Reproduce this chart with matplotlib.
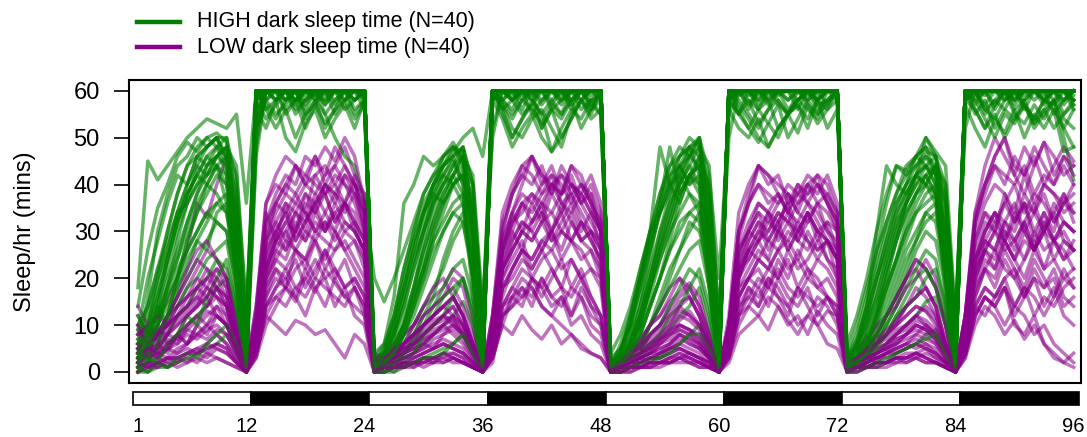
import numpy as np
import matplotlib
matplotlib.use('Agg')
import matplotlib.pyplot as plt
from matplotlib.lines import Line2D
from matplotlib.patches import Rectangle

plt.rcParams['font.family'] = ['Liberation Sans', 'DejaVu Sans']

# sleep per hour (mins), 96 hourly values per fly, typed in blocks of 12 h
high_dark = [
    "18 45 41 44 47 50 52 54 53 52 55 36  60 58 55 57 60 54 58 55 50 46 44 36  20 15 20 26 32 38 42 44 47 50 52 46  60 60 58 55 57 60 56 54 58 60 57 55  4 8 14 22 30 38 44 48 46 50 42 20  55 60 58 56 60 57 55 58 60 56 58 60  6 12 20 30 38 44 43 46 50 47 44 12  58 60 56 54 58 60 57 52 55 58 50 41",
    "10 14 22 30 38 44 48 50 51 49 30 4  60 60 60 58 60 59 60 60 58 60 60 60  2 3 8 14 22 30 38 44 48 47 32 6  58 60 60 60 59 60 60 58 60 60 59 60  1 3 7 12 20 28 36 42 48 50 30 5  60 60 59 60 60 60 58 60 60 59 60 60  2 4 10 16 24 32 38 42 46 44 28 3  60 59 60 60 60 58 60 60 59 60 60 57",
    "14 26 35 40 46 49 47 50 48 46 38 8  56 60 58 60 57 60 59 58 60 58 60 59  3 6 16 36 40 46 44 46 49 45 36 10  60 58 56 60 58 55 58 60 57 60 58 59  0 2 6 14 24 36 48 38 42 44 34 8  58 60 60 57 59 60 56 58 60 60 57 60  4 10 18 26 36 44 42 46 48 42 30 6  60 58 60 57 60 56 58 60 58 57 60 58",
    "5 8 12 18 24 30 36 40 44 42 26 2  52 60 60 60 58 60 60 60 60 60 58 60  0 1 4 8 14 20 28 34 40 43 30 3  60 60 60 59 60 60 60 60 60 58 60 60  0 1 3 8 14 20 28 36 42 44 28 2  60 60 60 60 60 59 60 60 60 60 60 59  1 2 5 10 16 22 28 34 38 40 24 1  60 60 59 60 60 60 60 60 58 60 60 60",
    "2 4 8 12 16 20 24 28 32 30 18 1  48 60 60 58 60 60 59 60 60 60 60 58  0 2 3 6 10 14 18 22 28 32 20 2  60 60 58 60 60 60 60 57 60 60 60 60  1 2 4 6 10 16 22 26 30 34 24 2  60 59 60 60 60 60 60 60 58 60 60 60  0 1 3 6 10 14 20 26 30 28 18 1  60 60 60 60 59 60 60 60 60 60 58 60",
    "8 10 16 24 32 38 42 46 48 50 40 10  60 57 54 58 60 55 57 53 56 58 54 57  2 4 6 10 18 26 34 40 44 48 40 8  60 57 52 50 54 56 52 48 55 58 54 56  2 3 5 10 18 26 34 42 46 48 38 6  60 56 52 49 53 50 55 57 54 58 52 56  3 6 10 16 24 30 36 40 44 46 36 8  60 56 52 55 50 54 57 53 56 52 55 58",
    "1 2 3 5 8 10 12 14 18 20 12 0  46 60 60 60 60 60 60 60 60 60 60 60  0 0 1 2 4 6 8 10 12 15 10 0  60 60 60 60 60 60 60 60 60 60 60 60  0 1 2 3 5 7 9 12 14 18 10 0  60 60 60 60 60 60 60 60 60 60 60 60  0 1 2 4 6 8 10 12 15 16 10 0  60 60 60 60 60 60 60 60 60 60 60 60",
    "6 12 20 26 34 36 40 44 46 48 34 5  58 60 60 56 58 60 60 57 60 60 58 60  1 3 10 18 28 34 38 42 45 40 28 4  60 58 60 60 55 58 60 60 56 60 60 58  1 6 12 20 30 34 38 44 40 42 30 4  60 58 55 52 56 60 58 60 57 55 60 58  2 5 12 20 26 32 36 40 42 38 26 3  60 60 56 58 60 57 60 58 60 55 58 60",
    "12 8 14 10 18 22 28 26 34 36 22 3  54 60 60 60 58 60 60 60 60 60 60 60  0 2 5 4 8 12 16 24 30 34 24 2  60 60 59 60 60 58 60 60 60 60 60 60  0 3 6 5 10 14 20 26 32 30 22 2  60 60 60 58 60 60 60 60 59 60 60 60  1 3 8 6 12 16 22 28 34 36 22 2  60 60 60 60 60 60 59 60 60 60 60 58",
    "4 16 30 38 44 46 50 48 50 46 30 2  60 60 60 60 60 60 60 60 60 60 60 60  1 4 12 22 30 36 40 46 48 44 26 1  60 60 60 60 60 60 60 60 60 60 60 60  2 4 10 20 28 36 42 46 48 46 28 2  60 60 60 60 60 60 60 60 60 60 60 60  3 8 16 26 32 38 42 44 46 42 26 2  60 60 60 60 60 60 60 60 60 60 60 59",
    "0 2 6 12 20 28 34 38 42 40 26 6  56 52 58 50 47 53 56 50 54 57 52 58  0 1 3 8 14 22 30 36 40 42 30 4  58 54 48 52 55 50 47 52 56 54 58 55  0 1 4 10 18 26 32 38 42 40 26 3  56 52 50 54 48 52 55 51 57 53 56 58  0 2 5 10 18 24 30 36 40 38 24 2  57 52 48 54 51 56 50 55 52 56 47 48",
    "0 0 1 1 2 3 4 5 6 8 4 0  58 60 60 60 60 60 60 60 60 60 60 60  0 0 0 1 2 3 4 5 6 8 5 0  60 60 60 60 60 60 60 60 60 60 60 60  0 0 1 2 2 3 5 6 8 10 6 0  60 60 60 60 60 60 60 60 60 60 60 60  0 0 1 1 2 4 5 6 8 9 5 0  60 60 60 60 60 60 60 60 60 60 60 60",
    "3 6 12 20 26 32 38 42 46 48 44 12  60 60 58 60 60 57 60 60 60 58 60 60  1 2 6 12 18 26 32 38 42 46 42 14  50 60 58 60 60 60 57 60 60 58 60 60  2 3 6 12 20 28 34 40 44 48 44 10  58 60 60 60 57 60 60 60 58 60 60 60  1 3 8 14 20 28 34 38 40 44 40 10  60 60 57 60 60 60 58 60 60 60 57 60",
    "1 4 10 18 28 36 44 48 50 44 18 0  60 60 60 60 60 60 60 60 60 60 60 60  0 1 4 10 18 28 36 42 46 40 16 0  60 60 60 60 60 60 60 60 60 60 60 60  0 1 4 12 20 30 38 44 48 42 18 0  60 60 60 60 60 60 60 60 60 60 60 60  0 2 6 12 22 30 36 42 44 40 16 0  60 60 60 60 60 60 60 60 60 60 60 60",
    "4 6 8 12 14 18 20 24 26 28 16 2  60 60 60 60 58 60 60 60 60 60 60 60  0 1 2 4 7 10 14 18 22 24 16 1  60 60 60 60 60 60 60 59 60 60 60 60  1 2 3 6 10 14 18 22 26 28 18 1  60 60 60 59 60 60 60 60 60 60 60 60  1 2 4 6 10 14 18 22 26 24 14 1  60 60 60 60 60 59 60 60 60 60 60 60",
    "8 14 22 28 34 40 44 42 46 44 32 6  60 58 60 60 60 58 60 59 60 60 60 60  2 4 8 16 24 32 38 36 40 42 30 5  60 60 58 60 60 60 60 58 60 60 60 60  1 4 12 22 30 48 40 36 42 38 26 4  60 60 60 58 60 60 60 60 60 58 60 60  2 6 14 30 44 40 38 42 44 40 30 4  60 60 60 60 58 60 60 60 60 60 58 60",
    "2 5 10 16 22 26 30 34 36 38 24 4  52 58 60 55 58 52 57 60 55 58 60 56  1 2 5 10 16 22 28 32 36 38 26 3  60 57 54 58 56 53 57 55 58 52 56 58  0 2 6 12 18 24 30 34 38 36 24 3  58 55 58 53 56 58 55 57 52 58 56 60  1 3 6 12 18 24 30 34 36 38 24 3  58 56 52 57 60 55 53 57 54 58 52 56",
    "6 10 18 26 34 40 46 48 50 50 36 8  60 60 60 60 60 60 60 60 60 60 60 60  2 5 10 18 26 34 40 44 46 48 34 6  60 60 60 60 60 60 60 60 60 60 60 60  2 5 10 18 26 34 40 46 48 49 36 6  60 60 60 60 60 60 60 60 60 60 60 60  2 6 12 20 28 34 40 44 47 46 34 6  60 60 60 60 60 60 60 60 60 60 60 60",
    "3 3 5 8 12 14 18 20 24 22 14 2  60 56 58 60 55 58 60 57 60 56 58 60  0 1 2 4 6 10 12 16 18 20 12 1  60 56 50 54 58 55 47 50 54 58 56 60  0 1 2 4 8 10 14 18 22 20 12 1  60 57 54 50 48 52 55 58 56 54 58 60  0 1 3 5 8 12 16 20 22 18 12 1  60 58 54 50 55 53 57 54 58 56 52 48",
    "1 2 6 12 20 28 34 40 44 46 34 5  60 60 60 60 60 60 58 60 60 60 60 60  1 2 5 10 16 24 32 38 42 46 34 4  60 60 60 60 58 60 60 60 60 60 60 60  1 3 6 10 18 26 32 40 46 50 38 4  60 60 60 60 60 60 60 58 60 60 60 60  1 3 6 12 20 28 36 42 50 46 40 8  60 60 60 60 60 60 60 60 58 60 60 60",
    "2 6 14 24 32 38 42 46 44 40 24 3  55 60 60 58 60 56 60 60 57 60 60 58  1 3 8 16 24 30 36 40 44 46 32 5  60 58 60 56 60 60 58 55 60 60 57 60  1 2 8 16 26 34 40 44 46 44 30 4  60 60 57 60 58 60 60 56 60 58 60 60  2 4 10 18 26 34 38 42 40 44 28 3  60 57 60 60 58 60 56 60 60 58 60 56",
    "6 4 10 16 20 26 30 34 32 30 20 2  60 60 60 60 60 60 60 60 60 60 60 60  1 2 4 8 12 18 24 30 34 36 22 2  60 60 60 60 60 60 60 60 60 60 60 60  1 2 4 8 14 20 26 30 34 36 24 2  60 60 60 60 60 60 60 60 60 60 60 60  1 2 4 8 12 18 24 28 32 34 22 2  60 60 60 60 60 60 60 60 60 60 60 60",
    "9 20 28 36 42 40 46 44 48 42 26 10  58 60 60 60 58 60 60 58 60 60 60 60  4 6 12 20 28 34 40 44 46 48 40 12  60 56 58 60 60 57 60 60 58 60 56 60  3 5 10 18 28 36 42 44 40 46 36 10  58 60 56 60 60 58 55 60 60 58 60 60  3 7 14 22 30 36 40 46 44 42 36 10  58 60 60 56 60 58 60 60 57 60 60 58",
    "0 3 2 6 8 12 10 16 20 24 14 1  50 60 60 60 60 60 60 60 60 60 60 60  0 1 2 3 4 8 10 12 16 20 14 1  58 60 60 60 60 60 60 60 60 60 60 60  0 1 3 4 6 8 12 14 18 22 14 1  60 60 60 60 60 60 60 60 60 60 60 60  0 2 4 6 8 12 14 16 20 22 14 1  60 60 60 60 60 60 60 60 60 60 60 60",
    "4 10 20 30 38 44 46 48 50 46 32 4  60 56 52 56 50 55 58 52 56 60 55 58  2 5 12 22 30 38 42 46 48 46 30 4  60 55 50 54 57 52 56 50 54 58 55 60  1 4 10 20 30 38 44 46 50 48 30 3  60 55 52 56 53 57 50 54 58 55 57 60  2 6 14 24 32 38 44 46 48 46 30 3  60 55 58 52 56 54 58 53 56 58 54 52",
    "3 8 14 22 30 36 40 42 44 36 20 2  60 60 60 60 60 60 60 60 60 60 60 60  1 3 8 14 22 30 36 40 42 38 20 2  60 60 60 60 60 60 60 60 60 60 60 60  1 3 8 14 22 30 36 40 44 40 22 2  60 60 60 60 60 60 60 60 60 60 60 60  1 3 8 14 22 28 34 38 42 38 20 2  60 60 60 60 60 60 60 60 60 60 60 60",
    "1 0 2 1 3 4 3 6 8 10 6 0  60 60 60 60 60 60 60 60 60 60 60 60  0 0 1 1 2 3 3 4 6 8 4 0  60 60 60 60 60 60 60 60 60 60 60 60  0 0 1 2 3 3 4 6 8 8 5 0  60 60 60 60 60 60 60 60 60 60 60 60  0 1 1 2 3 4 5 6 7 8 4 0  60 60 60 60 60 60 60 60 60 60 60 60",
    "5 8 12 18 24 32 38 44 46 48 42 14  52 60 58 60 60 60 58 60 60 60 58 60  2 3 6 10 16 22 30 36 42 44 40 10  52 60 60 58 60 60 60 60 58 60 60 60  2 3 6 10 16 24 30 38 42 46 40 12  50 60 60 60 58 60 60 60 60 58 60 60  2 3 6 12 18 24 32 38 42 44 38 10  52 60 60 60 60 58 60 60 60 60 60 58",
    "7 6 10 14 18 24 28 32 36 34 22 3  58 54 57 60 56 58 60 55 58 60 56 58  1 2 4 8 14 20 26 30 34 32 22 2  60 58 55 58 60 52 56 58 60 56 58 60  1 2 4 8 14 20 26 32 34 32 20 2  58 55 60 56 58 52 55 58 60 57 58 60  1 2 4 8 14 20 26 30 34 32 20 2  58 60 55 58 56 60 57 54 58 60 55 57",
    "2 8 16 24 32 38 42 40 38 34 20 1  60 60 60 60 60 60 60 60 60 60 60 60  1 4 10 18 26 34 40 42 40 36 20 1  60 60 60 60 60 60 60 60 60 60 60 60  1 4 12 20 28 34 40 42 38 34 18 1  60 60 60 60 60 60 60 60 60 60 60 60  1 5 12 20 28 36 40 42 40 36 20 1  60 60 60 60 60 60 60 60 60 60 60 60",
]

low_dark = [
    "10 8 12 15 20 26 36 33 40 46 30 2  8 28 36 40 44 42 46 40 44 48 42 30  2 3 5 8 10 14 16 18 22 20 12 1  6 26 34 40 46 42 38 44 40 36 38 30  1 2 4 6 10 12 16 20 18 14 8 0  10 30 38 44 40 42 36 40 38 42 40 34  2 3 6 8 12 16 20 24 22 18 10 1  12 34 44 50 46 42 48 44 49 46 42 44",
    "4 6 5 8 7 10 12 10 14 12 6 0  6 20 26 24 30 28 32 30 34 36 32 24  1 2 1 3 4 6 5 8 10 8 4 0  4 18 22 26 24 28 30 26 32 28 30 22  0 1 2 3 2 4 6 8 6 5 3 0  5 16 20 24 22 26 28 24 30 26 28 20  1 2 3 2 4 5 6 8 10 8 4 0  6 20 26 22 28 24 30 26 32 28 26 22",
    "2 1 3 2 4 5 4 6 8 6 3 0  4 12 10 8 11 10 8 9 6 3 8 6  0 1 0 2 1 3 2 4 3 2 1 0  3 10 8 12 9 7 10 6 8 5 4 3  0 0 1 1 2 2 3 4 3 2 1 0  2 8 10 12 9 14 11 8 12 10 6 5  0 1 1 2 2 3 3 4 5 3 2 0  3 10 14 12 8 11 7 10 6 4 2 1",
    "6 4 8 10 12 16 18 22 20 18 10 1  12 32 38 42 40 46 44 48 45 50 46 36  3 2 4 6 8 10 12 14 16 12 6 0  10 30 38 44 46 42 40 38 44 42 36 32  1 2 3 4 6 8 10 14 12 10 5 0  8 28 36 44 42 40 38 36 40 38 42 36  2 3 4 6 8 10 14 18 16 12 6 0  10 32 40 46 50 44 42 46 40 44 48 45",
    "3 2 4 3 5 6 8 10 8 6 3 0  5 18 22 20 24 18 22 26 20 24 18 14  0 1 2 1 3 4 5 6 5 4 2 0  4 14 18 22 20 16 20 24 18 22 16 12  0 1 1 2 3 3 4 5 4 3 2 0  4 16 20 18 22 20 24 18 22 20 16 14  1 1 2 3 4 5 6 5 6 4 2 0  5 16 22 18 24 20 16 22 18 20 14 16",
    "8 10 6 12 14 18 22 26 24 20 12 1  10 26 32 28 34 30 36 38 32 36 34 28  2 4 3 6 8 12 14 16 20 18 10 0  8 24 30 36 32 34 28 32 36 30 34 26  1 2 3 5 8 10 14 16 18 14 8 0  8 22 28 32 30 34 32 28 34 30 32 26  2 3 5 8 12 16 20 24 22 18 10 0  10 26 32 30 36 32 38 34 30 36 32 30",
    "1 0 2 1 3 2 4 3 5 4 2 0  3 14 16 18 15 20 17 22 19 16 18 12  0 0 1 1 2 2 3 2 3 2 1 0  2 12 14 16 18 14 12 16 10 12 8 6  0 0 0 1 1 2 2 3 2 2 1 0  3 10 14 12 16 14 10 12 8 13 10 8  0 0 1 1 2 2 3 3 4 3 1 0  4 12 16 14 10 14 12 8 10 6 4 2",
    "12 8 10 6 8 12 14 18 16 14 8 1  14 34 28 36 30 38 34 40 36 42 38 32  4 3 2 4 6 8 10 12 14 10 6 0  12 28 34 30 36 32 38 34 40 36 32 28  2 2 3 4 5 7 9 11 13 10 6 0  10 26 30 34 28 32 36 30 34 28 32 30  3 2 4 5 6 8 10 12 14 12 6 0  12 28 34 30 38 32 36 28 34 30 38 34",
    "5 3 6 4 8 6 10 8 12 10 5 0  8 22 28 32 30 36 34 38 32 36 30 26  1 2 3 4 5 6 8 10 12 8 4 0  10 30 38 42 46 40 42 36 38 32 28 24  0 1 2 3 4 5 6 8 7 5 3 0  12 34 40 44 42 38 34 40 36 32 28 26  1 2 3 4 5 7 8 10 9 7 4 0  10 24 30 34 28 32 36 30 34 28 32 30",
    "3 5 8 12 16 20 24 22 18 14 6 0  6 20 24 28 26 30 28 32 30 26 28 22  1 2 4 6 10 14 18 20 16 12 6 0  5 18 22 26 24 28 26 30 28 24 26 20  1 2 4 7 10 14 18 20 16 12 6 0  6 20 26 24 28 26 30 28 26 30 24 22  1 3 5 8 12 16 20 22 18 14 6 0  6 22 26 30 28 24 28 26 30 24 28 26",
    "4 6 3 5 8 6 10 12 14 10 6 0  10 28 34 38 36 40 38 42 44 40 38 34  2 1 3 4 5 6 8 9 10 8 4 0  8 26 32 36 34 38 40 42 38 40 36 30  1 1 2 3 4 5 6 8 7 6 3 0  8 24 30 34 32 36 38 34 40 42 36 30  1 2 3 4 5 7 8 10 9 7 4 0  12 34 40 46 50 42 38 44 49 42 46 44",
    "0 1 2 1 2 3 2 4 3 2 1 0  4 14 18 20 16 22 18 20 14 18 12 10  0 0 1 1 2 1 2 3 2 2 1 0  3 12 16 18 14 20 16 18 12 16 10 8  0 0 1 1 1 2 2 3 2 1 1 0  3 12 18 14 20 16 12 18 14 10 13 12  0 1 1 2 2 3 2 3 2 2 1 0  4 14 18 16 20 14 18 12 16 14 18 20",
    "7 9 8 10 12 14 16 14 18 16 8 1  10 30 36 34 38 42 40 38 42 40 36 30  2 3 4 5 6 8 10 12 10 8 4 0  8 26 32 36 38 34 40 38 44 40 36 30  1 2 3 4 5 6 8 10 9 7 4 0  8 24 30 28 34 32 36 38 42 40 36 32  1 2 3 5 6 8 10 12 10 8 4 0  8 24 30 34 32 36 30 34 38 32 36 38",
    "1 2 2 3 3 4 5 6 5 4 2 0  4 16 20 18 22 24 20 26 22 18 20 16  0 1 1 2 2 3 3 4 4 3 1 0  4 14 16 20 18 14 12 10 8 6 4 3  0 0 1 1 2 2 3 3 4 3 1 0  4 14 18 16 20 18 14 10 12 16 14 10  0 1 1 2 2 3 3 4 3 2 1 0  4 12 16 14 18 10 8 12 6 3 2 4",
    "5 3 5 7 6 9 11 13 12 10 5 0  7 24 30 26 32 28 34 30 36 32 30 26  2 1 2 3 4 5 7 8 9 7 3 0  7 22 28 32 30 26 30 34 28 32 28 24  1 1 2 3 4 4 5 7 6 5 3 0  6 20 26 30 28 32 26 30 28 24 28 24  1 2 3 3 4 6 7 8 7 6 3 0  8 22 28 26 32 28 24 30 26 28 24 28",
    "14 10 8 12 16 22 26 28 24 20 10 1  9 22 28 32 36 34 30 34 38 36 32 28  3 4 6 8 10 12 14 16 18 14 8 0  8 20 26 30 28 32 34 30 28 32 30 26  2 3 5 7 10 12 15 17 19 16 8 0  8 22 24 28 32 30 26 30 34 30 28 24  3 5 7 10 12 14 18 20 24 20 10 0  9 20 26 24 30 28 32 26 30 34 28 26",
    "6 8 7 9 11 13 15 18 16 14 7 0  12 32 36 40 38 34 42 38 40 36 42 38  3 2 4 5 6 8 10 11 12 10 5 0  10 28 34 38 36 40 44 38 42 36 40 34  1 2 3 4 6 7 8 10 9 8 4 0  10 26 32 36 34 30 38 34 32 36 34 30  2 3 4 6 7 9 10 12 11 9 5 0  10 30 36 40 38 34 42 36 40 38 34 36",
    "2 4 3 5 4 6 8 7 9 8 4 0  5 16 22 18 26 22 28 24 30 26 22 18  1 1 2 2 3 4 5 6 5 4 2 0  5 18 20 24 22 26 22 18 24 20 16 12  0 1 1 2 3 3 4 5 4 3 2 0  5 16 20 22 18 24 20 26 22 18 20 16  1 1 2 3 3 4 5 6 5 4 2 0  5 16 22 20 26 22 18 24 20 16 22 18",
    "9 6 4 6 8 10 12 14 16 12 6 0  8 26 30 34 28 32 38 34 30 36 40 34  2 2 3 4 5 7 8 10 11 9 4 0  8 24 30 26 32 36 30 34 38 34 30 28  1 1 2 3 4 6 7 9 8 6 3 0  8 22 28 32 26 30 34 28 32 36 30 26  1 2 3 4 5 6 8 10 9 7 3 0  8 24 30 34 30 26 32 36 30 34 38 32",
    "4 6 8 10 12 14 18 20 22 18 8 0  8 20 26 30 26 24 30 28 26 30 28 24  2 3 4 6 8 10 12 14 16 12 6 0  6 20 24 28 22 26 30 24 28 26 22 20  1 2 4 5 8 10 13 15 16 12 6 0  6 18 22 26 24 20 26 22 24 28 24 20  2 3 5 6 8 11 14 16 18 14 7 0  6 18 24 22 28 24 20 26 22 28 24 26",
    "6 4 5 8 10 12 14 16 12 10 5 0  6 24 30 34 28 32 36 30 34 30 32 28  1 2 3 4 6 7 9 10 8 6 3 0  6 22 28 32 30 34 30 36 32 28 30 26  1 1 2 3 4 6 8 9 8 6 3 0  6 22 26 30 34 28 32 30 34 30 28 24  1 2 3 4 5 6 8 9 8 6 3 0  6 24 28 32 28 34 30 26 32 28 30 26",
    "2 3 4 5 6 8 7 9 10 8 4 0  5 18 24 22 26 24 28 22 26 28 24 20  1 1 2 3 3 4 5 6 5 4 2 0  5 16 22 26 20 24 26 22 24 20 22 18  0 1 2 2 3 4 5 5 4 3 2 0  5 18 20 24 22 26 22 24 20 24 22 18  1 1 2 3 4 4 5 6 5 4 2 0  5 18 22 26 22 20 24 28 22 24 20 22",
    "8 10 12 10 14 16 20 18 22 20 10 1  12 36 40 38 44 40 42 44 40 44 40 34  3 3 5 6 8 10 12 14 12 10 5 0  12 32 38 42 40 44 38 42 40 38 34 30  1 2 4 5 7 9 11 13 12 10 5 0  10 30 36 40 38 36 40 38 36 40 38 34  2 3 5 6 8 10 12 14 13 11 5 0  12 32 38 44 42 40 44 38 42 40 44 40",
    "1 2 1 3 2 4 5 4 6 5 2 0  4 14 18 22 18 20 24 20 22 18 20 16  0 1 1 2 2 3 3 4 3 2 1 0  4 14 18 16 20 18 22 18 16 20 14 12  0 0 1 1 2 2 3 4 3 2 1 0  4 14 16 20 18 22 18 16 20 18 16 12  0 1 1 2 2 3 4 4 3 2 1 0  4 14 18 16 20 22 16 20 18 22 16 14",
    "4 5 6 8 10 12 14 16 18 14 6 0  8 22 28 30 34 32 36 40 38 42 40 38  2 2 3 5 6 8 10 12 11 8 4 0  8 22 26 30 32 36 34 38 40 38 42 36  1 1 2 4 5 7 9 10 9 7 3 0  7 20 24 28 30 34 32 36 38 40 36 32  1 2 3 4 6 8 9 11 10 8 4 0  8 22 28 26 32 30 36 34 40 38 36 40",
    "0 1 1 2 1 2 3 2 3 2 1 0  3 10 14 18 16 12 18 14 20 16 14 12  0 0 1 1 1 2 2 2 3 2 1 0  3 10 16 14 20 18 14 16 12 18 14 10  0 0 0 1 1 1 2 2 2 1 1 0  3 12 14 18 14 20 16 14 18 12 16 14  0 0 1 1 1 2 2 3 2 2 1 0  3 12 16 14 18 12 16 20 14 18 12 10",
    "10 6 8 10 14 16 18 16 20 16 8 0  10 28 32 36 34 38 36 40 38 34 38 30  2 3 5 6 8 10 12 14 16 12 6 0  10 26 32 34 38 36 40 36 34 38 34 30  1 2 4 6 8 10 12 14 16 12 6 0  10 26 30 36 34 38 34 32 36 34 30 28  2 3 5 7 9 11 14 16 18 14 6 0  10 28 34 32 36 40 34 38 36 32 36 34",
    "3 5 4 6 7 9 8 10 12 10 5 0  7 22 28 26 30 34 30 32 28 32 30 26  1 2 2 3 4 5 6 7 6 5 2 0  7 22 26 30 28 32 28 30 34 28 26 22  0 1 2 2 3 4 5 6 5 4 2 0  7 20 26 28 24 30 28 32 28 26 28 24  1 1 2 3 4 5 6 7 6 5 2 0  7 20 26 30 26 28 32 26 30 28 32 30",
    "5 7 9 8 12 14 16 20 18 16 8 0  14 36 42 46 44 40 46 42 48 44 40 36  2 3 4 5 7 9 11 12 14 10 5 0  12 34 40 44 42 38 42 40 36 40 38 32  1 2 3 4 6 8 10 12 11 9 4 0  10 30 36 40 36 38 34 38 40 36 38 32  2 3 4 6 8 10 12 14 13 10 5 0  12 32 40 44 40 46 42 48 44 40 46 42",
    "2 1 2 3 3 4 4 5 6 5 2 0  4 12 16 14 18 16 20 18 16 14 18 14  0 1 1 1 2 2 3 3 4 3 1 0  4 12 14 18 16 20 16 14 18 16 12 10  0 0 1 1 2 2 2 3 3 2 1 0  4 12 16 14 18 16 14 18 16 14 16 12  0 1 1 2 2 3 3 4 3 2 1 0  4 14 12 16 18 14 18 16 12 16 20 18",
]

legend_labels = ['HIGH dark sleep time (N=40)', 'LOW dark sleep time (N=40)']
tick_hours = [1, 12, 24, 36, 48, 60, 72, 84, 96]
# light (0) / dark (1) phase for each 12 h block
phases = [0, 1, 0, 1, 0, 1, 0, 1]

green = '#008000'
purple = '#8B008B'


def parse(rows):
    out = []
    for r in rows:
        v = np.array(r.split(), dtype=float)
        if len(v) != 96:
            raise ValueError('bad row length %d' % len(v))
        out.append(v)
    return out


hi = parse(high_dark)
lo = parse(low_dark)
hours = np.arange(1, 97)

W, H = 1087, 437
fig = plt.figure(figsize=(W / 100, H / 100), dpi=100)
ax = fig.add_axes([129 / W, 1 - 383 / H, (1081 - 129) / W, (383 - 80) / H])

for i in range(len(hi)):
    ax.plot(hours, lo[i], color=purple, alpha=0.55, lw=2.5)
    ax.plot(hours, hi[i], color=green, alpha=0.6, lw=2.5)

ax.set_xlim(0.09, 96.75)
ax.set_ylim(-2.35, 62.3)
ax.set_xticks([])
ax.set_yticks(range(0, 61, 10))
ax.tick_params(axis='y', length=11, width=1.2, labelsize=17, pad=10)
for s in ax.spines.values():
    s.set_linewidth(1.5)

fig.text(25 / W, 1 - 232 / H, 'Sleep/hr (mins)', rotation=90,
         ha='center', va='center', fontsize=17)

# light/dark bar
bax = fig.add_axes([129 / W, 1 - 406 / H, (1081 - 129) / W, 15 / H])
for k, ph in enumerate(phases):
    bax.add_patch(Rectangle((0.5 + 12 * k, 0), 12, 1,
                            facecolor='black' if ph else 'white',
                            edgecolor='black', lw=1.2))
bax.set_xlim(0.09, 96.75)
bax.set_ylim(-0.05, 1.05)
bax.set_yticks([])
bax.set_xticks(tick_hours)
bax.tick_params(axis='x', length=0, labelsize=14.5, pad=8)
for s in bax.spines.values():
    s.set_visible(False)

# legend above the plot
for j, (lab, col) in enumerate(zip(legend_labels, [green, purple])):
    yy = 1 - (22 + 25 * j) / H
    fig.add_artist(Line2D([137 / W, 180 / W], [yy, yy], color=col, lw=3.2))
    fig.text(197 / W, yy, lab, ha='left', va='center', fontsize=15.5)

fig.savefig('out.png', dpi=100)
